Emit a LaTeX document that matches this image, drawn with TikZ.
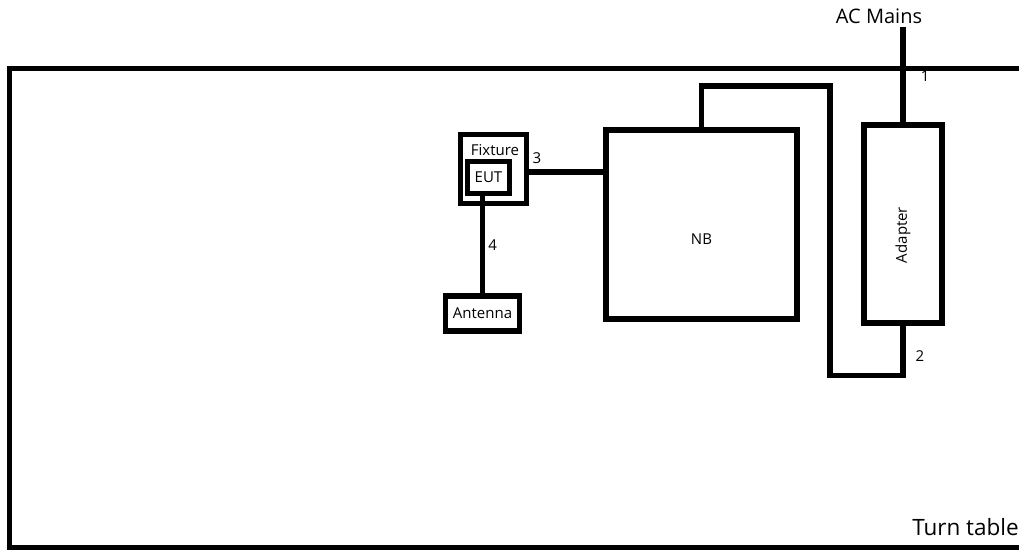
\documentclass[tikz,border=0pt]{standalone}
\usepackage{fontspec}
\setmainfont{Open Sans}
\usetikzlibrary{positioning,calc}

\begin{document}
\begin{tikzpicture}[
    x=1pt, y=-1pt,
    box/.style={rectangle,draw,line width=5.5pt,inner sep=0pt},
    wire/.style={line width=5.5pt},
    tag/.style={inner sep=0pt,font=\fontsize{15}{17}\selectfont},
    big/.style={inner sep=0pt,font=\fontsize{20}{23}\selectfont}
]
    \useasboundingbox (0,0) rectangle (1019,551);

    % turn table and units
    \node[box,minimum width=1031pt,minimum height=479pt] (table) at (524.75,308) {};
    \node[box,minimum width=78pt,minimum height=198pt] (adapter) at (903,224) {};
    \node[rotate=90,tag] at (903,235) {Adapter};
    \node[box,minimum width=191pt,minimum height=189pt,
          label={[tag,yshift=-15pt]center:NB}] (nb) at (701.5,224.5) {};
    \node[box,minimum width=66pt,minimum height=69pt] (fixture) at (493.5,169) {};
    \node[box,minimum width=42pt,minimum height=32pt,tag] (eut) at (488.5,177.5) {EUT};
    \node[box,minimum width=74pt,minimum height=35pt,tag] (antenna) at (482.5,313.5) {Antenna};

    % texts
    \node[tag] (fixlbl) at (495,150) {Fixture};
    \node[big] (mains) at (879,16) {AC Mains};
    \node[big,anchor=east,font=\fontsize{22.5}{26}\selectfont] (ttlbl) at (1019,527) {Turn table};
    \coordinate (acin) at (903,27);

    % cables
    \draw[wire] (acin) -- (adapter.north) node[tag,pos=0.52,right=15pt] {1};
    \draw[wire] (nb.north) -- (nb.north |- 0,86) -- (830,86) -- (830,375.5)
        -- (adapter.south |- 0,375.5) -- (adapter.south);
    \node[tag] at (920,356) {2};
    \draw[wire] (fixture.east |- 0,172) -- (nb.west |- 0,172);
    \node[tag] at (537,158) {3};
    \draw[wire] (eut.south -| antenna.north) -- (antenna.north)
        node[tag,midway,right=3pt] {4};
\end{tikzpicture}
\end{document}
